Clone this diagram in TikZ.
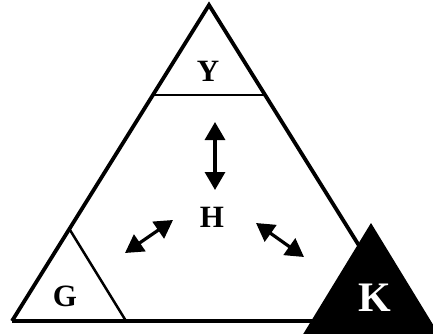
\documentclass[tikz,border=0pt]{standalone}
\usepackage{fontspec}
\setmainfont{Liberation Serif}
\usetikzlibrary{arrows.meta}
\begin{document}
\begin{tikzpicture}[x=1pt,y=-1pt,
  lbl/.style={font=\bfseries\fontsize{31}{31}\selectfont, inner sep=0pt},
  dbl/.style={line width=3.2pt, {Triangle[length=18pt,width=20pt]}-{Triangle[length=18pt,width=20pt]}}]
\useasboundingbox (0,0) rectangle (433,334);
% big triangle corners
\coordinate (A) at (209,5);
\coordinate (L) at (12,321);
\coordinate (R) at (406,321);
\draw[line width=3.8pt, line join=miter] (L) -- (A) -- (R);
\draw[line width=4.5pt] (L) -- (R);
% Y separator
\coordinate (Y1) at (154,95);
\coordinate (Y2) at (264,95);
\draw[line width=2.5pt] (Y1) -- (Y2);
% G separator
\coordinate (G1) at (70,230);
\coordinate (G2) at (126,321);
\draw[line width=2.5pt] (G1) -- (G2);
% K triangle
\coordinate (K1) at (371,223);
\coordinate (K2) at (302,336);
\coordinate (K3) at (440,336);
\fill[black] (K1) -- (K2) -- (K3) -- cycle;
% labels
\node[lbl] (y) at (208,71) {Y};
\node[lbl] (g) at (65,296) {G};
\node[lbl] (h) at (212,217.5) {H};
\node[lbl, text=white, font=\bfseries\fontsize{42}{42}\selectfont] (k) at (375,298) {K};
% arrows
\coordinate (v1) at (215,122);
\coordinate (v2) at (215,190);
\draw[dbl] (v1) -- (v2);
\coordinate (l1) at (125,253);
\coordinate (l2) at (173,220);
\draw[dbl] (l1) -- (l2);
\coordinate (r1) at (256,223);
\coordinate (r2) at (304,257);
\draw[dbl] (r1) -- (r2);
\end{tikzpicture}
\end{document}
